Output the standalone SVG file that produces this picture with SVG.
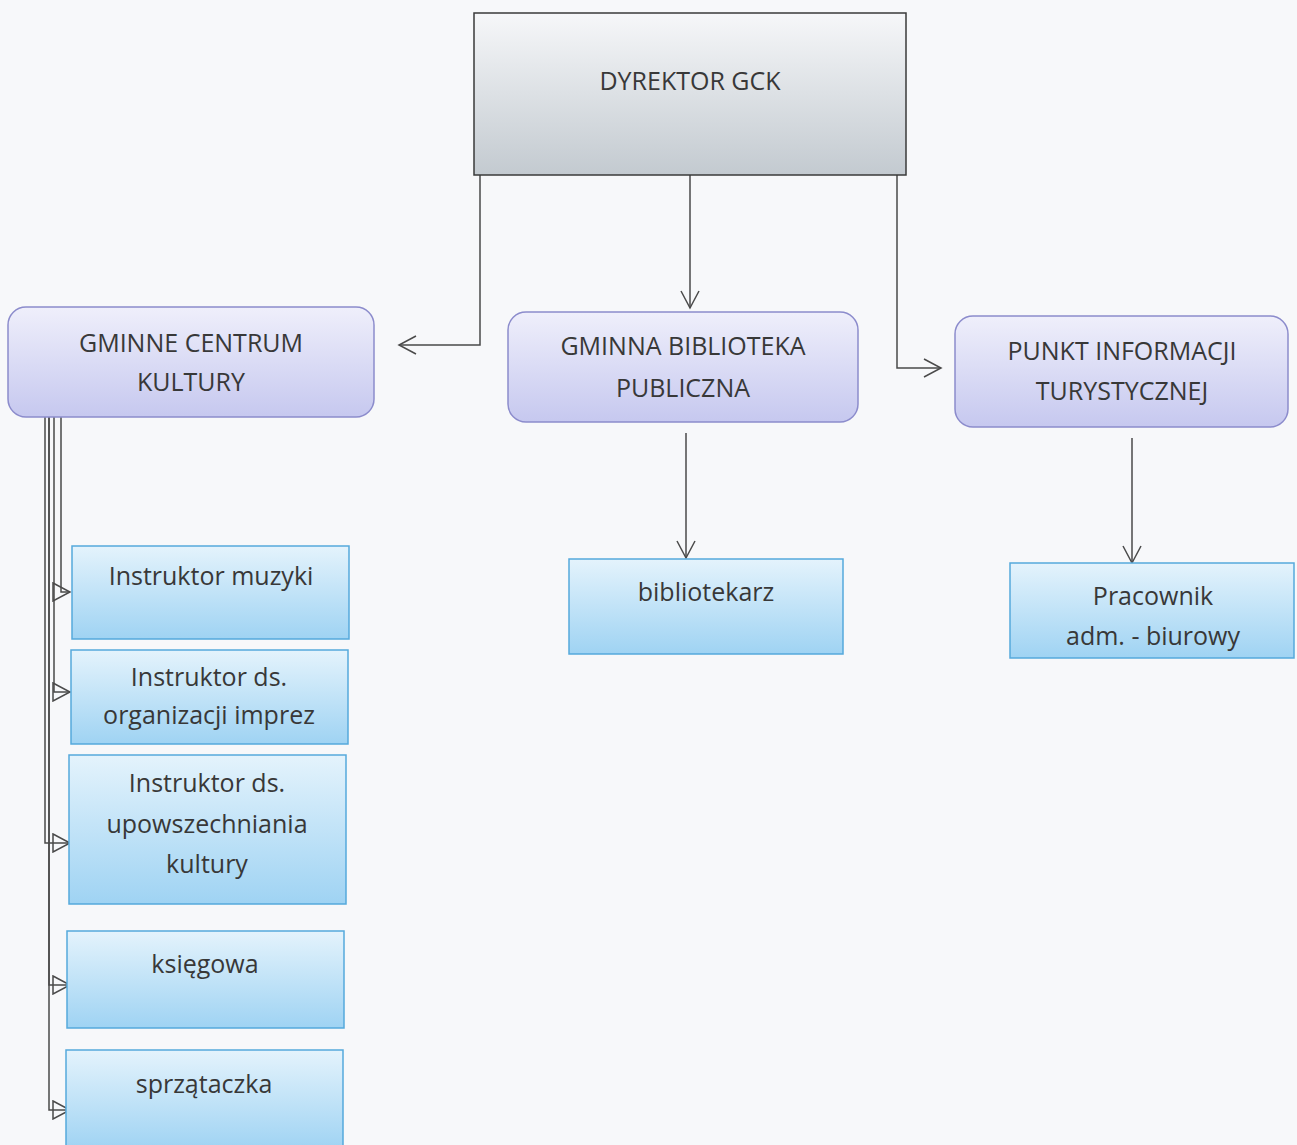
<svg xmlns="http://www.w3.org/2000/svg" width="1297" height="1145" viewBox="0 0 1297 1145">
<defs>
  <linearGradient id="gGrey" x1="0" y1="0" x2="0" y2="1">
    <stop offset="0" stop-color="#f6f7f9"/>
    <stop offset="1" stop-color="#c3cad0"/>
  </linearGradient>
  <linearGradient id="gLav" x1="0" y1="0" x2="0" y2="1">
    <stop offset="0" stop-color="#efeffb"/>
    <stop offset="1" stop-color="#c6c8ef"/>
  </linearGradient>
  <linearGradient id="gBlue" x1="0" y1="0" x2="0" y2="1">
    <stop offset="0" stop-color="#e4f3fc"/>
    <stop offset="1" stop-color="#9fd3f3"/>
  </linearGradient>
  <marker id="open" viewBox="0 0 20 20" refX="18" refY="10" markerWidth="20" markerHeight="20" markerUnits="userSpaceOnUse" orient="auto">
    <path d="M1,1 L18,10 L1,19" fill="none" stroke="#4a4a4a" stroke-width="1.5"/>
  </marker>
  <marker id="tri" viewBox="0 0 20 20" refX="18" refY="10" markerWidth="20" markerHeight="20" markerUnits="userSpaceOnUse" orient="auto">
    <path d="M1,1 L18,10 L1,19 Z" fill="none" stroke="#4a4a4a" stroke-width="1.5"/>
  </marker>
</defs>
<style>
  text { font-family: "Open Sans", "Liberation Sans", sans-serif; font-size: 25px; fill: #383838; text-anchor: middle; }
  .grey { fill: url(#gGrey); stroke: #3a3a3a; stroke-width: 1.5; }
  .lav { fill: url(#gLav); stroke: #8c8ccc; stroke-width: 1.5; }
  .blue { fill: url(#gBlue); stroke: #55a9dc; stroke-width: 1.5; }
  .conn path { fill: none; stroke: #4a4a4a; stroke-width: 1.5; }
  .v { marker-end: url(#open); }
  .t { marker-end: url(#tri); }
</style>
<rect x="0" y="0" width="1297" height="1145" fill="#f7f8fa"/>

<g id="connectors" class="conn">
  <path class="v" d="M480,175 V345 H399"/>
  <path class="v" d="M690,175 V308"/>
  <path class="v" d="M897,175 V368 H941"/>
  <path class="v" d="M686,433 V558"/>
  <path class="v" d="M1132,438 V563"/>
  <path class="t" d="M61,417 V592 H70"/>
  <path class="t" d="M54,417 V692 H70"/>
  <path class="t" d="M45,417 V843 H70"/>
  <path class="t" d="M49,417 V985 H70"/>
  <path class="t" d="M49,417 V1110 H70"/>
</g>

<g id="dyrektor">
  <rect class="grey" x="474" y="13" width="432" height="162"/>
  <text x="690" y="90">DYREKTOR GCK</text>
</g>

<g id="gck">
  <rect class="lav" x="8" y="307" width="366" height="110" rx="18" ry="18"/>
  <text x="191" y="352">GMINNE CENTRUM</text>
  <text x="191" y="391">KULTURY</text>
</g>

<g id="gbp">
  <rect class="lav" x="508" y="312" width="350" height="110" rx="18" ry="18"/>
  <text x="683" y="355">GMINNA BIBLIOTEKA</text>
  <text x="683" y="397">PUBLICZNA</text>
</g>

<g id="pit">
  <rect class="lav" x="955" y="316" width="333" height="111" rx="18" ry="18"/>
  <text x="1122" y="360">PUNKT INFORMACJI</text>
  <text x="1122" y="400">TURYSTYCZNEJ</text>
</g>

<g id="bibliotekarz">
  <rect class="blue" x="569" y="559" width="274" height="95"/>
  <text x="706" y="601">bibliotekarz</text>
</g>

<g id="pracownik">
  <rect class="blue" x="1010" y="563" width="284" height="95"/>
  <text x="1153" y="605">Pracownik</text>
  <text x="1153" y="645">adm. - biurowy</text>
</g>

<g id="muzyki">
  <rect class="blue" x="72" y="546" width="277" height="93"/>
  <text x="211" y="585">Instruktor muzyki</text>
</g>

<g id="organizacji">
  <rect class="blue" x="71" y="650" width="277" height="94"/>
  <text x="209" y="686">Instruktor ds.</text>
  <text x="209" y="724">organizacji imprez</text>
</g>

<g id="upowszechniania">
  <rect class="blue" x="69" y="755" width="277" height="149"/>
  <text x="207" y="792">Instruktor ds.</text>
  <text x="207" y="833">upowszechniania</text>
  <text x="207" y="873">kultury</text>
</g>

<g id="ksiegowa">
  <rect class="blue" x="67" y="931" width="277" height="97"/>
  <text x="205" y="973">księgowa</text>
</g>

<g id="sprzataczka">
  <rect class="blue" x="66" y="1050" width="277" height="100"/>
  <text x="204" y="1093">sprzątaczka</text>
</g>
</svg>
